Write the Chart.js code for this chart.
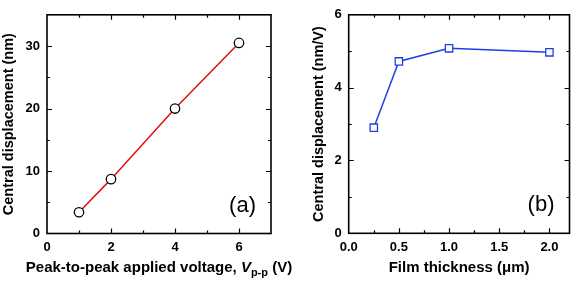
<!DOCTYPE html>
<html>
<head>
<meta charset="utf-8">
<script src="https://cdn.jsdelivr.net/npm/chart.js@4.4.0/dist/chart.umd.min.js"></script>
<style>
  body { margin: 0; background: #fff; }
  #wrap { position: relative; width: 576px; height: 282px; overflow: hidden; background: #fff; }
  canvas { position: absolute; top: 0; }
  #chartA { left: 0; }
  #chartB { left: 290px; }
</style>
</head>
<body>
<div id="wrap">
  <canvas id="chartA" width="300" height="282"></canvas>
  <canvas id="chartB" width="286" height="282"></canvas>
</div>
<script>
// panel (a): displacement vs applied voltage
const voltage = [1, 2, 4, 6];
const displacementA = [3.4, 8.7, 20.0, 30.5];
const xTicksA = [0, 2, 4, 6];
const yTicksA = [0, 10, 20, 30];

// panel (b): displacement per volt vs film thickness
const thickness = [0.25, 0.5, 1.0, 2.0];
const displacementB = [2.9, 4.72, 5.08, 4.97];
const xTicksB = [0.0, 0.5, 1.0, 1.5, 2.0];
const yTicksB = [0, 2, 4, 6];

const FONT = '"Liberation Sans", Arial, sans-serif';

function toPoints(xs, ys) {
    return xs.map((x, i) => ({ x: x, y: ys[i] }));
}

// midpoints between majors (plus one past the last one)
function minorTicks(majors, max) {
    const out = [];
    const step = majors[1] - majors[0];
    majors.forEach(v => {
        const m = v + step / 2;
        if (m < max - 1e-9) out.push(m);
    });
    return out;
}

// box around plot area + inward ticks on all sides
const framePlugin = {
    id: 'frame',
    afterDraw(chart, args, opts) {
        const ctx = chart.ctx;
        const a = chart.chartArea;
        const xs = chart.scales.x, ys = chart.scales.y;
        ctx.save();
        ctx.strokeStyle = '#000';
        ctx.lineWidth = 1.6;
        ctx.strokeRect(a.left, a.top, a.right - a.left, a.bottom - a.top);
        ctx.lineWidth = 1.2;
        const tick = (vals, len, isX) => {
            vals.forEach(v => {
                const sc = isX ? xs : ys;
                if (v <= sc.min + 1e-9 || v >= sc.max - 1e-9) return;
                const p = Math.round(sc.getPixelForValue(v)) + 0.5;
                ctx.beginPath();
                if (isX) {
                    ctx.moveTo(p, a.bottom); ctx.lineTo(p, a.bottom - len);
                    ctx.moveTo(p, a.top); ctx.lineTo(p, a.top + len);
                } else {
                    ctx.moveTo(a.left, p); ctx.lineTo(a.left + len, p);
                    ctx.moveTo(a.right, p); ctx.lineTo(a.right - len, p);
                }
                ctx.stroke();
            });
        };
        tick(opts.xMajor, 5, true);
        tick(minorTicks(opts.xMajor, xs.max), 3, true);
        tick(opts.yMajor, 5, false);
        tick(minorTicks(opts.yMajor, ys.max), 3, false);

        // panel letter
        ctx.fillStyle = '#000';
        ctx.font = '22px ' + FONT;
        ctx.textAlign = 'right';
        ctx.textBaseline = 'middle';
        ctx.fillText(opts.letter, a.right - 15, a.bottom - 28);
        ctx.restore();
    }
};

// x title of panel (a) with italic V and subscript
const voltTitlePlugin = {
    id: 'voltTitle',
    afterDraw(chart) {
        const ctx = chart.ctx;
        const a = chart.chartArea;
        const parts = [
            { t: 'Peak-to-peak applied voltage, ', f: 'bold 15px ' + FONT, dy: 0 },
            { t: 'V', f: 'italic bold 15px ' + FONT, dy: 0 },
            { t: 'p-p', f: 'bold 11px ' + FONT, dy: 4 },
            { t: ' (V)', f: 'bold 15px ' + FONT, dy: 0 }
        ];
        ctx.save();
        let total = 0;
        parts.forEach(p => { ctx.font = p.f; p.w = ctx.measureText(p.t).width; total += p.w; });
        let x = (a.left + a.right) / 2 - total / 2;
        const base = 272;
        ctx.fillStyle = '#000';
        ctx.textAlign = 'left';
        ctx.textBaseline = 'alphabetic';
        parts.forEach(p => {
            ctx.font = p.f;
            ctx.fillText(p.t, x, base + p.dy);
            x += p.w;
        });
        ctx.restore();
    }
};

const tickFont = { family: FONT, size: 13, weight: 'bold' };
const titleFont = { family: FONT, size: 14.5, weight: 'bold' };

function axis(min, max, ticks, size, isX, fmt) {
    return {
        type: 'linear',
        min: min,
        max: max,
        grid: { display: false, drawTicks: false },
        border: { display: false },
        afterBuildTicks: sc => { sc.ticks = ticks.map(v => ({ value: v })); },
        afterFit: sc => { if (isX) sc.height = size; else sc.width = size; },
        ticks: {
            color: '#000',
            font: tickFont,
            padding: isX ? 6 : 7,
            maxRotation: 0,
            autoSkip: false,
            callback: fmt || (v => v)
        }
    };
}

Chart.defaults.animation = false;

// panel (a)
const optsA = {
    responsive: false,
    animation: false,
    layout: { padding: { top: 9, right: 29, left: 0, bottom: 0 } },
    plugins: {
        legend: { display: false },
        tooltip: { enabled: false },
        frame: { xMajor: xTicksA, yMajor: yTicksA, letter: '(a)' }
    },
    scales: {
        x: axis(0, 7, xTicksA, 48.5, true),
        y: axis(0, 35, yTicksA, 47, false)
    }
};
optsA.scales.y.title = { display: true, text: 'Central displacement (nm)', color: '#000', font: titleFont, padding: { top: 0, bottom: 4 } };

new Chart(document.getElementById('chartA').getContext('2d'), {
    type: 'scatter',
    data: {
        datasets: [{
            data: toPoints(voltage, displacementA),
            showLine: true,
            borderColor: '#e01010',
            borderWidth: 1.5,
            pointStyle: 'circle',
            pointRadius: 4.7,
            pointBorderColor: '#000',
            pointBackgroundColor: '#fff',
            pointBorderWidth: 1.3
        }]
    },
    options: optsA,
    plugins: [framePlugin, voltTitlePlugin]
});

// panel (b)
const optsB = {
    responsive: false,
    animation: false,
    layout: { padding: { top: 8.3, right: 4, left: 0, bottom: 0 } },
    plugins: {
        legend: { display: false },
        tooltip: { enabled: false },
        frame: { xMajor: xTicksB, yMajor: yTicksB, letter: '(b)' }
    },
    scales: {
        x: axis(0, 2.2, xTicksB, 48.7, true, v => v.toFixed(1)),
        y: axis(0, 6, yTicksB, 58.7, false)
    }
};
optsB.scales.x.title = { display: true, text: 'Film thickness (\u03bcm)', color: '#000', font: { family: FONT, size: 15, weight: 'bold' }, padding: { top: 4, bottom: 5 } };
optsB.scales.y.title = { display: true, text: 'Central displacement (nm/V)', color: '#000', font: titleFont, padding: { top: 20, bottom: 0 } };

new Chart(document.getElementById('chartB').getContext('2d'), {
    type: 'scatter',
    data: {
        datasets: [{
            data: toPoints(thickness, displacementB),
            showLine: true,
            borderColor: '#1f3fe6',
            borderWidth: 1.5,
            pointStyle: 'rect',
            pointRadius: 5.2,
            pointBorderColor: '#1f3fe6',
            pointBackgroundColor: '#fff',
            pointBorderWidth: 1.3
        }]
    },
    options: optsB,
    plugins: [framePlugin]
});
</script>
</body>
</html>
